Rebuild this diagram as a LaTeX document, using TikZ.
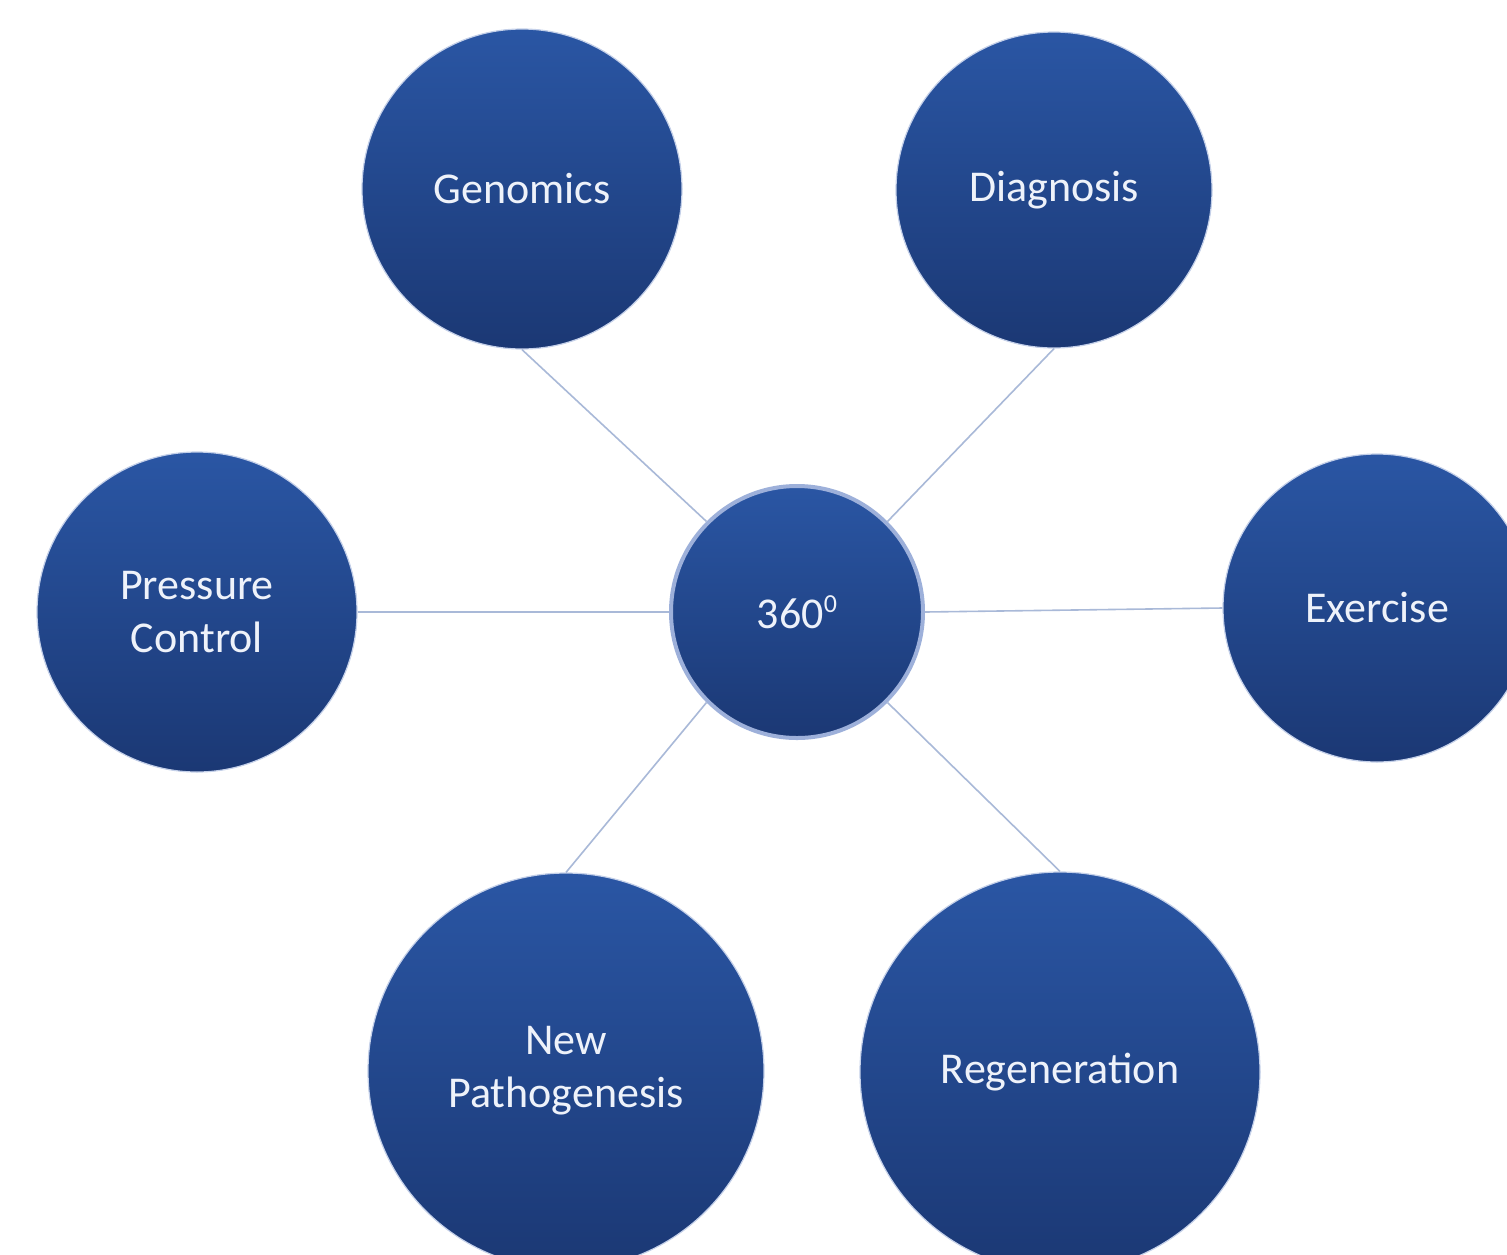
\documentclass[tikz,border=0pt]{standalone}
\usepackage{fontspec}
\setmainfont{Carlito}
\definecolor{ctop}{HTML}{2A56A4}
\definecolor{cbot}{HTML}{1B3874}
\definecolor{link}{HTML}{A9B9D8}
\definecolor{rim}{HTML}{9DB0DA}
\definecolor{txt}{HTML}{EEF2FA}
\begin{document}
\begin{tikzpicture}[x=1pt,y=-1pt,
  bubble/.style={circle, inner sep=0pt, top color=ctop, bottom color=cbot,
     draw=rim!60!white, line width=1.2pt, text=txt, align=center,
     font=\fontsize{44}{53}\selectfont},
  hub/.style={bubble, draw=rim, line width=4pt},
  conn/.style={draw=link, line width=1.6pt}]
\useasboundingbox (0,0) rectangle (1507,1254);
\fill[white] (0,0) rectangle (1507,1254);
\node[hub, minimum size=252pt] (hub) at (797,612) {360\raisebox{0.75ex}{\fontsize{26}{26}\selectfont 0}};
\node[bubble, minimum size=320pt] (gen) at (522,189) {Genomics};
\node[bubble, minimum size=316pt] (dia) at (1054,190) {Diagnosis};
\node[bubble, minimum size=320pt] (pre) at (197,612) {Pressure\\Control};
\node[bubble, minimum size=308pt] (exe) at (1377,608) {Exercise};
\node[bubble, minimum size=396pt] (pat) at (566,1071) {New\\Pathogenesis};
\node[bubble, minimum size=400pt] (reg) at (1060,1072) {Regeneration};
\path[conn] (gen.south) -- (hub.135);
\path[conn] (dia.south) -- (hub.45);
\path[conn] (pre.east) -- (hub.west);
\path[conn] (hub.east) -- (exe.west);
\path[conn] (hub.225) -- (pat.north);
\path[conn] (hub.315) -- (reg.north);
\end{tikzpicture}
\end{document}
